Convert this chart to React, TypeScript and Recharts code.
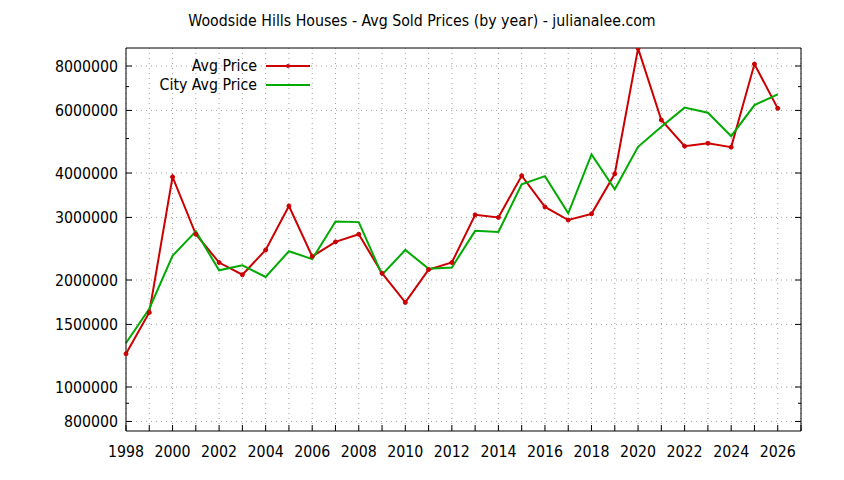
import { LineChart, Line, XAxis, YAxis, CartesianGrid, ReferenceLine } from "recharts";

const title = "Woodside Hills Houses - Avg Sold Prices (by year) - julianalee.com";

const years = [
  1998, 1999, 2000, 2001, 2002, 2003, 2004, 2005, 2006, 2007, 2008, 2009, 2010, 2011, 2012,
  2013, 2014, 2015, 2016, 2017, 2018, 2019, 2020, 2021, 2022, 2023, 2024, 2025, 2026,
];

const avgPrice = [
  1240000, 1620000, 3900000, 2690000, 2240000, 2070000, 2430000, 3230000, 2330000, 2560000,
  2690000, 2090000, 1730000, 2140000, 2240000, 3050000, 3000000, 3930000, 3210000, 2950000,
  3070000, 3980000, 8970000, 5640000, 4760000, 4850000, 4730000, 8100000, 6080000,
];

const cityAvgPrice = [
  1330000, 1660000, 2340000, 2740000, 2130000, 2200000, 2040000, 2410000, 2290000, 2920000,
  2910000, 2070000, 2430000, 2150000, 2170000, 2750000, 2730000, 3720000, 3920000, 3080000,
  4510000, 3600000, 4740000, 5400000, 6110000, 5910000, 5080000, 6210000, 6660000,
];

const xTicks = [
  1998, 1999, 2000, 2001, 2002, 2003, 2004, 2005, 2006, 2007, 2008, 2009, 2010, 2011, 2012,
  2013, 2014, 2015, 2016, 2017, 2018, 2019, 2020, 2021, 2022, 2023, 2024, 2025, 2026, 2027,
];

const yTicks = [800000, 900000, 1000000, 1500000, 2000000, 3000000, 4000000, 5000000, 6000000, 7000000, 8000000];
const yLabels = [800000, 1000000, 1500000, 2000000, 3000000, 4000000, 6000000, 8000000];

const FONT = "'DejaVu Sans Condensed', 'Liberation Sans', sans-serif";
const FONT_SIZE = 15.75;
const RED = "#cc0000";
const GREEN = "#00aa00";
const LEFT_MARGIN = 8;

// gnuplot-style inward ticks: labelled ones long, the rest short
function LeftTick(props: any) {
  const { x, y, payload } = props;
  const major = yLabels.includes(payload.value);
  const axisX = x + LEFT_MARGIN;
  return (
    <g>
      <line x1={axisX} x2={axisX + (major ? 6 : 3)} y1={y} y2={y} stroke="#000" />
      {major && (
        <text x={x} y={y} dy="0.355em" textAnchor="end" fill="#000" fontSize={FONT_SIZE} fontFamily={FONT}>
          {payload.value}
        </text>
      )}
    </g>
  );
}

function RightTick(props: any) {
  const { x, y, payload } = props;
  const major = yLabels.includes(payload.value);
  return <line x1={x} x2={x - (major ? 6 : 3)} y1={y} y2={y} stroke="#000" />;
}

export default function App() {
  const data = years.map((year, i) => ({ year, avg: avgPrice[i], city: cityAvgPrice[i] }));
  const tickStyle = { fill: "#000", fontSize: FONT_SIZE, fontFamily: FONT };

  return (
    <div style={{ position: "absolute", left: 0, top: 0, width: 844, height: 480, background: "#fff" }}>
      <LineChart width={844} height={480} data={data} margin={{ top: 47, right: 42, bottom: 19, left: 66 }}>
        <CartesianGrid horizontal={false} stroke="#a0a0a0" strokeDasharray="1 4" />
        {yLabels.map((v) => (
          <ReferenceLine key={v} y={v} stroke="#a0a0a0" strokeDasharray="1 4" />
        ))}
        <XAxis
          dataKey="year"
          type="number"
          domain={[1998, 2027]}
          ticks={xTicks}
          interval={0}
          height={30}
          tickSize={-6}
          tickMargin={21}
          tickFormatter={(v) => (v % 2 === 0 && v < 2027 ? String(v) : "")}
          tick={tickStyle}
          axisLine={{ stroke: "#000" }}
          tickLine={{ stroke: "#000" }}
        />
        <XAxis
          xAxisId="top"
          orientation="top"
          type="number"
          domain={[1998, 2027]}
          ticks={xTicks}
          interval={0}
          height={1}
          tickSize={-6}
          tickFormatter={() => ""}
          axisLine={{ stroke: "#000" }}
          tickLine={{ stroke: "#000" }}
        />
        <YAxis
          scale="log"
          domain={[752000, 8990000]}
          allowDataOverflow
          ticks={yTicks}
          interval={0}
          width={60}
          tickSize={0}
          tickMargin={LEFT_MARGIN}
          tickLine={false}
          tick={<LeftTick />}
          axisLine={{ stroke: "#000" }}
        />
        <YAxis
          yAxisId="right"
          orientation="right"
          scale="log"
          domain={[752000, 8990000]}
          allowDataOverflow
          ticks={yTicks}
          interval={0}
          width={1}
          tickSize={0}
          tickMargin={0}
          tickLine={false}
          tick={<RightTick />}
          axisLine={{ stroke: "#000" }}
        />
        <Line
          dataKey="avg"
          stroke={RED}
          strokeWidth={2}
          dot={{ r: 2, fill: RED, stroke: RED, strokeWidth: 1 }}
          isAnimationActive={false}
        />
        <Line dataKey="city" stroke={GREEN} strokeWidth={2} dot={false} isAnimationActive={false} />
      </LineChart>
      <svg
        width={844}
        height={480}
        style={{ position: "absolute", left: 0, top: 0, pointerEvents: "none" }}
        fontFamily={FONT}
        fontSize={FONT_SIZE}
      >
        <text x={422} y={26} textAnchor="middle" fill="#000">
          {title}
        </text>
        <text x={257} y={71} textAnchor="end" fill="#000">
          Avg Price
        </text>
        <line x1={266} x2={310} y1={66} y2={66} stroke={RED} strokeWidth={2} />
        <circle cx={288} cy={66} r={2} fill={RED} />
        <text x={257} y={90} textAnchor="end" fill="#000">
          City Avg Price
        </text>
        <line x1={266} x2={310} y1={85} y2={85} stroke={GREEN} strokeWidth={2} />
      </svg>
    </div>
  );
}
